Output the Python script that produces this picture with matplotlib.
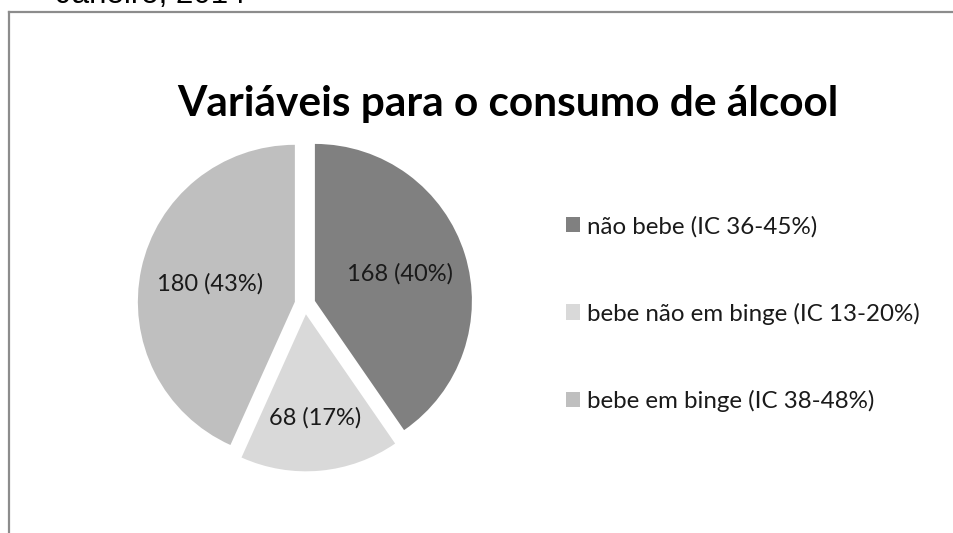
import matplotlib.pyplot as plt
from matplotlib.lines import Line2D
import numpy as np

# data
categories = ["não bebe (IC 36-45%)", "bebe não em binge (IC 13-20%)", "bebe em binge (IC 38-48%)"]
counts = [168, 68, 180]
pct_labels = ["168 (40%)", "68 (17%)", "180 (43%)"]
label_dist = [0.57, 0.66, 0.55]
colors = ["#808080", "#d9d9d9", "#bfbfbf"]

W, H = 954, 533
fig = plt.figure(figsize=(W / 100, H / 100), dpi=100, facecolor="white")

# outer frame (only top and left visible)
fig.add_artist(Line2D([9.5 / W, 9.5 / W], [-0.1, (H - 11.5) / H], color="#8c8c8c", lw=1.6,
                      transform=fig.transFigure))
fig.add_artist(Line2D([9.5 / W, 1.1], [(H - 11.5) / H, (H - 11.5) / H], color="#8c8c8c", lw=1.6,
                      transform=fig.transFigure))

# cut-off caption at the very top
fig.text(56 / W, (H - 3) / H, "Janeiro, 2014", fontsize=22.5, family="Liberation Sans",
         color="#000000", ha="left", va="baseline")

# pie axes: center ~ (305, 304) px, radius 157 px
R = 157
L = 1.2
side = 2 * L * R
cx, cy = 305, H - 304
ax = fig.add_axes([(cx - side / 2) / W, (cy - side / 2) / H, side / W, side / H])
wedges, texts = ax.pie(counts, colors=colors, startangle=90, counterclock=False,
                       explode=[0.066] * 3, labels=pct_labels, labeldistance=0.57,
                       wedgeprops=dict(linewidth=0),
                       textprops=dict(fontsize=17, family="Lato", color="#1a1a1a"))
# move each label along its wedge bisector
for w, t, d in zip(wedges, texts, label_dist):
    ang = np.deg2rad((w.theta1 + w.theta2) / 2)
    x0, y0 = w.center
    t.set_position((x0 + d * np.cos(ang), y0 + d * np.sin(ang)))
    t.set_ha("center")
    t.set_va("center")
ax.set_xlim(-L, L)
ax.set_ylim(-L, L)
ax.set_aspect("equal")
ax.axis("off")

fig.text(508 / W, (H - 116) / H, "Variáveis para o consumo de álcool", fontsize=30.5,
         fontweight="bold", family="Lato", ha="center", va="baseline", color="#000000")

leg = fig.legend(wedges, categories, loc="upper left", bbox_to_anchor=(544 / W, (H - 194) / H),
                 frameon=False, handlelength=0.6, handleheight=0.6, handletextpad=0.3,
                 labelspacing=2.7, prop=dict(family="Lato", size=17.4))
for txt in leg.get_texts():
    txt.set_color("#1a1a1a")

fig.savefig("out.png", dpi=100, facecolor="white")
